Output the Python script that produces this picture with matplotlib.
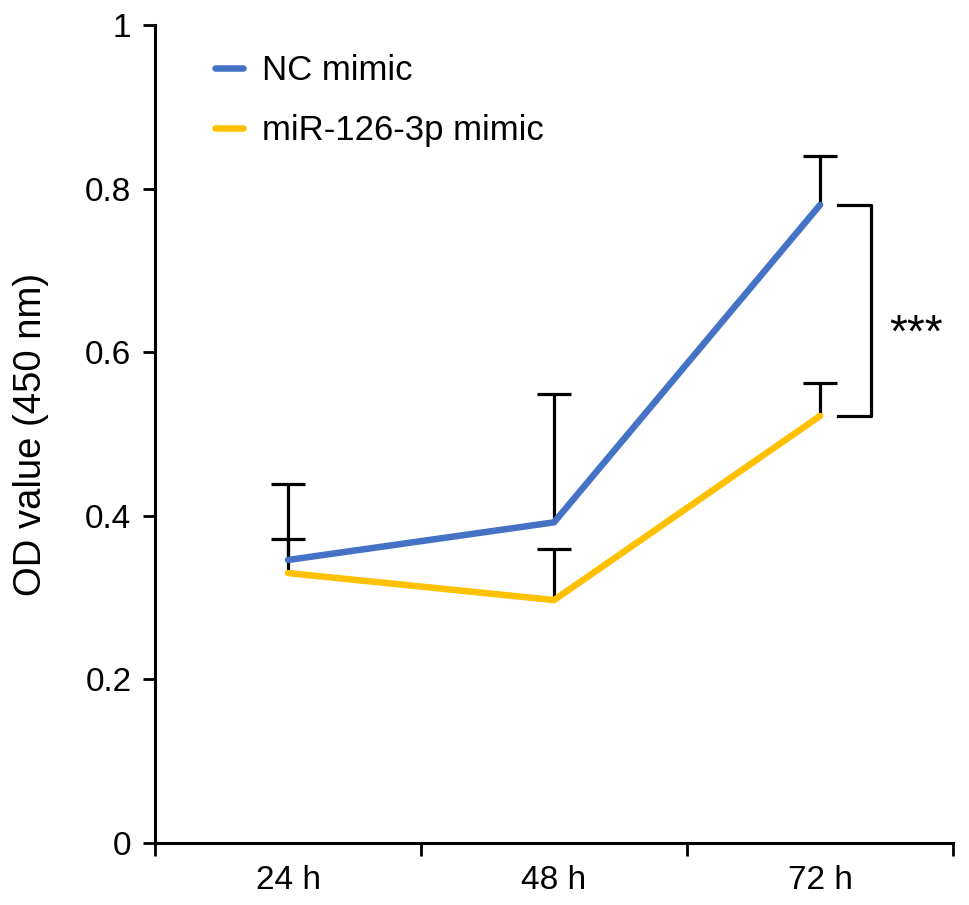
import matplotlib
matplotlib.use("Agg")
import matplotlib.pyplot as plt
import numpy as np

plt.rcParams['font.family'] = ['Liberation Sans', 'DejaVu Sans']

categories = ["24 h", "48 h", "72 h"]
nc_mean = [0.346, 0.392, 0.780]
nc_err = [0.093, 0.157, 0.060]
mir_mean = [0.330, 0.297, 0.522]
mir_err = [0.042, 0.062, 0.040]
series_names = ["NC mimic", "miR-126-3p mimic"]
yticks = [0, 0.2, 0.4, 0.6, 0.8, 1]
ytick_labels = ["0", "0.2", "0.4", "0.6", "0.8", "1"]
sig_label = "***"

blue = "#4472C4"
yellow = "#FFC000"

fig = plt.figure(figsize=(9.69, 9.05), dpi=100)
ax = fig.add_axes([0.16, 0.0685, 0.8235, 0.9039])

x = np.arange(len(categories))

for mean, err in ((nc_mean, nc_err), (mir_mean, mir_err)):
    eb = ax.errorbar(x, mean, yerr=[np.zeros(len(err)), err], fmt='none',
                     ecolor='black', elinewidth=2.3, capsize=12, capthick=2.3, zorder=2)
    caps = eb[1]
    if len(caps) >= 1:
        caps[0].set_visible(False)

ax.plot(x, nc_mean, color=blue, lw=4.7, solid_capstyle='round', label=series_names[0], zorder=3)
ax.plot(x, mir_mean, color=yellow, lw=4.7, solid_capstyle='round', label=series_names[1], zorder=3)

# significance bracket
bx0, bx1 = 2.068, 2.192
ax.plot([bx0, bx1, bx1, bx0], [nc_mean[2], nc_mean[2], mir_mean[2], mir_mean[2]],
        color='black', lw=2.3, zorder=2)
ax.text(2.36, 0.622, sig_label, fontsize=33, ha='center', va='center')

ax.set_xlim(-0.5, 2.5)
ax.set_ylim(0, 1)
ax.set_xticks([-0.5, 0.5, 1.5, 2.5])
ax.set_xticklabels([])
ax.set_xticks(x, minor=True)
ax.set_xticklabels(categories, minor=True)
ax.tick_params(axis='x', which='major', length=9, width=2, direction='out')
ax.tick_params(axis='x', which='minor', length=0, labelsize=24, pad=16)
ax.set_yticks(yticks)
ax.set_yticklabels(ytick_labels)
ax.tick_params(axis='y', length=9, width=2, direction='out', labelsize=24, pad=8)

for s in ['top', 'right']:
    ax.spines[s].set_visible(False)
for s in ['left', 'bottom']:
    ax.spines[s].set_linewidth(2.2)

ax.set_ylabel("OD value (450 nm)", fontsize=27.5, labelpad=26)

leg = ax.legend(loc='upper left', bbox_to_anchor=(0.058, 0.981), frameon=False,
                fontsize=25, handlelength=0.8, handletextpad=0.55, labelspacing=0.77,
                borderaxespad=0)

fig.savefig("out.png", dpi=100)
